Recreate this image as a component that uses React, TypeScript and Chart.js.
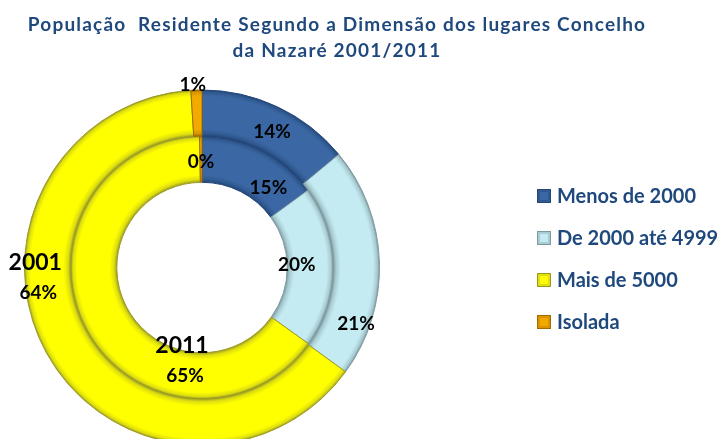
import React, { useEffect, useRef } from 'react';
import { Chart, registerables } from 'chart.js';

Chart.register(...registerables);

// ---- data ----
const CATEGORIES = ['Menos de 2000', 'De 2000 até 4999', 'Mais de 5000', 'Isolada'];
const YEARS = ['2001', '2011'];
const VALUES_2001 = [14, 21, 64, 1];
const VALUES_2011 = [15, 20, 65, 0.3];
const TITLE_LINES = [
  'População  Residente Segundo a Dimensão dos lugares Concelho',
  'da Nazaré 2001/2011',
];

// ---- styles ----
const BASE = ['#3B68A5', '#C4EBF2', '#FFFF00', '#F3AA00'];
const MID = ['#30598F', '#A9CBD2', '#DEDE10', '#D99400'];
const EDGE = ['#22467A', '#7E9AA1', '#9C9C22', '#A06C00'];
const TEXT_BLUE = '#1F497D';
const CUTOUT = 0.48;

function ringGradient(c: any) {
  const i = c.dataIndex;
  const chart = c.chart;
  const a = chart.chartArea;
  if (!a || c.type !== 'data') return BASE[i];
  const di = c.datasetIndex;
  const cx = (a.left + a.right) / 2;
  const cy = (a.top + a.bottom) / 2;
  const R = (Math.min(a.width, a.height) - 1) / 2;
  const r0 = R * CUTOUT;
  const w = (R - r0) / 2;
  const outer = R - di * w;
  const inner = outer - w;
  const g = chart.ctx.createRadialGradient(cx, cy, inner, cx, cy, outer);
  g.addColorStop(0, EDGE[i]);
  g.addColorStop(0.06, MID[i]);
  g.addColorStop(0.16, BASE[i]);
  g.addColorStop(0.86, BASE[i]);
  g.addColorStop(0.95, MID[i]);
  g.addColorStop(1, EDGE[i]);
  return g;
}

const titlePlugin = {
  id: 'customTitle',
  afterDraw(chart: any, _a: any, o: any) {
    const ctx = chart.ctx;
    ctx.save();
    ctx.font = o.font;
    (ctx as any).letterSpacing = o.spacing;
    ctx.fillStyle = o.color;
    ctx.textAlign = 'center';
    ctx.textBaseline = 'middle';
    o.lines.forEach((t: string, k: number) => ctx.fillText(t, o.x, o.y + k * o.lineGap));
    ctx.restore();
  },
};

const legendPlugin = {
  id: 'customLegend',
  afterDraw(chart: any, _a: any, o: any) {
    const ctx = chart.ctx;
    const labels: string[] = chart.data.labels;
    ctx.save();
    labels.forEach((lab, i) => {
      const y = o.y + i * o.step;
      const bx = o.x;
      const by = y - o.box / 2;
      ctx.fillStyle = EDGE[i];
      ctx.fillRect(bx, by, o.box, o.box);
      ctx.fillStyle = MID[i];
      ctx.fillRect(bx + 1, by + 1, o.box - 2, o.box - 2);
      ctx.fillStyle = BASE[i];
      ctx.fillRect(bx + 3, by + 3, o.box - 6, o.box - 6);
      ctx.font = o.font;
      ctx.fillStyle = o.color;
      ctx.textAlign = 'left';
      ctx.textBaseline = 'middle';
      ctx.fillText(lab, bx + o.box + o.gap, y + 1);
    });
    ctx.restore();
  },
};

const ringLabelPlugin = {
  id: 'ringLabels',
  afterDatasetsDraw(chart: any, _a: any, o: any) {
    const ctx = chart.ctx;
    ctx.save();
    ctx.fillStyle = '#000000';
    ctx.textAlign = 'center';
    ctx.textBaseline = 'middle';
    chart.data.datasets.forEach((ds: any, di: number) => {
      const meta = chart.getDatasetMeta(di);
      const total = ds.data.reduce((s: number, v: number) => s + v, 0);
      meta.data.forEach((arc: any, i: number) => {
        const p = arc.getProps(['x', 'y', 'startAngle', 'endAngle', 'innerRadius', 'outerRadius'], true);
        const ang = p.startAngle + o.along[di][i] * (p.endAngle - p.startAngle);
        const r = p.innerRadius + o.radial[di][i] * (p.outerRadius - p.innerRadius);
        const x = p.x + Math.cos(ang) * r;
        const y = p.y + Math.sin(ang) * r;
        const pct = Math.round((ds.data[i] / total) * 100) + '%';
        if (i === o.yearSlice) {
          ctx.font = o.yearFont;
          ctx.fillText(ds.label, x - 2, y - 15);
          ctx.font = o.font;
          ctx.fillText(pct, x + 1, y + 15);
        } else {
          ctx.font = o.font;
          ctx.fillText(pct, x, y);
        }
      });
    });
    ctx.restore();
  },
};

export default function App() {
  const ref = useRef<HTMLCanvasElement>(null);
  useEffect(() => {
    if (!ref.current) return;
    const chart = new Chart(ref.current, {
      type: 'doughnut',
      data: {
        labels: CATEGORIES,
        datasets: [
          { label: YEARS[0], data: VALUES_2001, backgroundColor: ringGradient as any, borderColor: EDGE, borderWidth: 1 },
          { label: YEARS[1], data: VALUES_2011, backgroundColor: ringGradient as any, borderColor: EDGE, borderWidth: 1 },
        ],
      },
      options: {
        animation: false,
        responsive: false,
        devicePixelRatio: 1,
        cutout: CUTOUT * 100 + '%',
        layout: { padding: { left: 24, top: 89, right: 343, bottom: 0 } },
        plugins: {
          legend: { display: false },
          tooltip: { enabled: false },
          title: { display: false },
          customTitle: {
            lines: TITLE_LINES,
            x: 337,
            y: 25,
            lineGap: 26,
            font: 'bold 19px Lato',
            spacing: '1.2px',
            color: TEXT_BLUE,
          },
          customLegend: {
            x: 537,
            y: 196,
            step: 42,
            box: 14,
            gap: 6,
            font: 'bold 20px Lato',
            color: TEXT_BLUE,
          },
          ringLabels: {
            along: [
              [0.54, 0.79, 0.61, 0.2],
              [0.74, 0.48, 0.28, 0.5],
            ],
            radial: [
              [0.47, 0.71, 0.73, 1.11],
              [0.4, 0.21, 0.21, 0.44],
            ],
            yearSlice: 2,
            font: 'bold 19px Lato',
            yearFont: 'bold 23px Lato',
          },
        } as any,
      },
      plugins: [titlePlugin, legendPlugin, ringLabelPlugin],
    });
    return () => chart.destroy();
  }, []);
  return (
    <div style={{ position: 'fixed', left: 0, top: 0, width: 723, height: 446, background: '#ffffff' }}>
      <canvas ref={ref} width={723} height={446} style={{ display: 'block' }} />
    </div>
  );
}
